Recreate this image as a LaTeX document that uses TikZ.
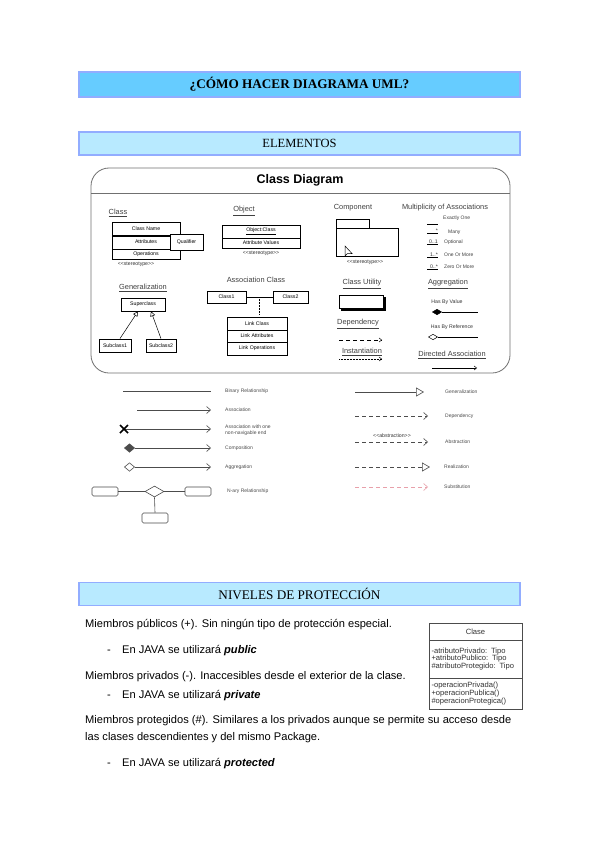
\documentclass[tikz,border=0pt]{standalone}
\usepackage{fontspec}
\setmainfont{Liberation Sans}
\newfontfamily\headfont{Liberation Serif}
\usetikzlibrary{arrows.meta,calc,shapes.geometric}
\definecolor{titlefill}{HTML}{66CCFF}
\definecolor{barfill}{HTML}{B8EAFF}
\definecolor{barline}{HTML}{92ADFF}
\definecolor{framegray}{HTML}{707070}
\definecolor{subpink}{HTML}{E8A0AA}

\begin{document}
\begin{tikzpicture}[
  x=1pt,
  y=-1pt,
  line/.style={draw=black,line width=0.5pt},
  gline/.style={draw=black!70,line width=0.6pt},
  headbar/.style={draw=barline,line width=1.3pt,minimum width=441pt,inner sep=0pt,font=\headfont\fontsize{12.5}{14}\selectfont},
  cdlabel/.style={font=\fontsize{7.4}{8}\selectfont,text=black!75,inner sep=0.5pt},
  tinytext/.style={font=\fontsize{5.2}{6}\selectfont,text=black!80,inner sep=0pt},
  rowbox/.style={line,fill=white,inner sep=0pt,font=\fontsize{5.2}{6}\selectfont},
  multtext/.style={anchor=west,font=\fontsize{5}{6}\selectfont,text=black!75,inner sep=0pt},
  legendtext/.style={anchor=west,align=left,font=\fontsize{5}{5.6}\selectfont,text=black!70,inner sep=0pt},
  bodytext/.style={anchor=west,font=\fontsize{11.1}{13}\selectfont,inner sep=0pt,text height=8pt,text depth=2.5pt},
  classtext/.style={line,draw=black!70,inner sep=0pt,minimum width=93pt,font=\fontsize{7.6}{7.6}\selectfont,text=black!80},
  openhead/.style={-{Straight Barb[length=4pt,width=7pt]}},
  smallhead/.style={-{Straight Barb[length=2.5pt,width=4pt]}},
  hollowtri/.style={-{Triangle[open,length=8pt,width=9pt]}},
  dashline/.style={dash pattern=on 4pt off 3pt}
]
\fill[white] (0,0) rectangle (599,848);
\useasboundingbox (0,0) rectangle (599,848);

% Headings
\node[headbar,fill=titlefill,minimum height=25pt,font=\headfont\bfseries\fontsize{13.2}{15}\selectfont] (title) at (299.5,84.5) {¿CÓMO HACER DIAGRAMA UML?};
\node[headbar,fill=barfill,minimum height=23pt] (elementos) at (299.5,143.5) {ELEMENTOS};
\node[headbar,fill=barfill,minimum height=23pt,font=\headfont\fontsize{13.2}{15}\selectfont] (niveles) at (299.5,594) {NIVELES DE PROTECCIÓN};

% Class diagram frame
\draw[draw=framegray,line width=0.8pt,rounded corners=18pt] (91,168) rectangle (510,373);
\draw[draw=framegray,line width=0.6pt] (91,193) -- (510,193);
\node[font=\bfseries\fontsize{12.5}{14}\selectfont] (cdtitle) at (300,180) {Class Diagram};

% Class
\node[cdlabel] (clslabel) at (118,213) {\underline{Class}};
\node[rowbox,minimum width=68pt,minimum height=13pt] (clsname) at (146,228.5) {Class Name};
\node[rowbox,minimum width=68pt,minimum height=14pt] (clsattr) at (146,242) {Attributes};
\node[rowbox,minimum width=68pt,minimum height=10pt] (clsops) at (146,254) {Operations};
\draw[line] ($(clsname.south west)+(0,1)$) -- ($(clsname.south east)+(0,1)$);
\node[rowbox,line width=0.9pt,minimum width=33pt,minimum height=16pt] (qualifier) at (186.5,242) {Qualifier};
\node[tinytext] (clsster) at (136,264) {<{}<stereotype>{}>};

% Object
\node[cdlabel] (objlabel) at (244,211) {\underline{Object}};
\node[rowbox,minimum width=78pt,minimum height=13pt] (objname) at (261,231.5) {\underline{Object:Class}};
\node[rowbox,minimum width=78pt,minimum height=10pt] (objattr) at (261,243) {Attribute Values};
\node[tinytext] (objster) at (261,253) {<{}<stereotype>{}>};

% Component
\node[cdlabel] (complabel) at (353,208) {Component};
\node[rowbox,minimum width=33pt,minimum height=9pt] (comptab) at (352.5,223.5) {};
\node[rowbox,minimum width=62pt,minimum height=28pt] (compbody) at (367,242) {};
\draw[line,fill=white] (345,246) -- (345,256) -- (347.5,253.5) -- (352,253.5) -- cycle;
\node[tinytext] (compster) at (365,262) {<{}<stereotype>{}>};

% Multiplicity of associations
\node[cdlabel] (multlabel) at (445,208) {Multiplicity of Associations};
\coordinate (exA) at (427,224); \coordinate (exB) at (438,224);
\coordinate (manyA) at (427,233); \coordinate (manyB) at (438,233);
\coordinate (optA) at (427,244); \coordinate (optB) at (438,244);
\coordinate (oneA) at (427,257); \coordinate (oneB) at (438,257);
\coordinate (zeroA) at (427,269); \coordinate (zeroB) at (438,269);
\draw[line] (exA) -- (exB);
\draw[line] (manyA) -- (manyB);
\draw[line] (optA) -- (optB);
\draw[line] (oneA) -- (oneB);
\draw[line] (zeroA) -- (zeroB);
\node[multtext] (exactly) at (443,218) {Exactly One};
\node[multtext] (many) at (448,232) {Many};
\node[multtext] (optional) at (444,242) {Optional};
\node[multtext] (onemore) at (444,255) {One Or More};
\node[multtext] (zeromore) at (444,267) {Zero Or More};
\node[tinytext,anchor=south east] (manymark) at (manyB) {*};
\node[tinytext,anchor=south east] (optmark) at (optB) {0..1};
\node[tinytext,anchor=south east] (onemark) at (oneB) {1..*};
\node[tinytext,anchor=south east] (zeromark) at (zeroB) {0..*};

% Generalization
\node[cdlabel] (genlabel) at (143,288) {\underline{Generalization}};
\node[rowbox,minimum width=44pt,minimum height=13pt] (super) at (143,304.5) {Superclass};
\node[rowbox,line width=0.9pt,minimum width=32pt,minimum height=13pt] (sub1) at (115,345.5) {Subclass1};
\node[rowbox,line width=0.7pt,minimum width=30pt,minimum height=13pt] (sub2) at (161,345.5) {Subclass2};
\draw[line,-{Triangle[open,length=5pt,width=5pt]}] ($(sub1.north)+(5,0)$) -- ($(super.south)+(-5,0)$);
\draw[line,-{Triangle[open,length=5pt,width=5pt]}] (sub2.north) -- ($(super.south)+(8,0)$);

% Association class
\node[cdlabel] (assoclabel) at (256,280) {Association Class};
\node[rowbox,minimum width=39pt,minimum height=12pt] (class1) at (226.5,297) {Class1};
\node[rowbox,minimum width=35pt,minimum height=12pt] (class2) at (290.5,297) {Class2};
\draw[line] (class1.east) -- (class2.west);
\coordinate (assocmid) at (259,297);
\node[rowbox,minimum width=60pt,minimum height=13pt] (linkcls) at (257,323.5) {Link Class};
\node[rowbox,minimum width=60pt,minimum height=12pt] (linkattr) at (257,336) {Link Attributes};
\node[rowbox,minimum width=60pt,minimum height=13pt] (linkops) at (257,348.5) {Link Operations};
\draw[line,densely dotted] (assocmid) -- ($(linkcls.north)+(2,-2)$);

% Class utility, dependency, instantiation
\node[cdlabel] (utillabel) at (362,284) {\underline{Class Utility}};
\node[rowbox,fill=black,minimum width=44pt,minimum height=13pt] (utilshadow) at (363,303.5) {};
\node[rowbox,minimum width=44pt,minimum height=13pt] (utilbox) at (361,301.5) {};
\node[cdlabel] (deplabel) at (358,324) {\underline{Dependency}};
\coordinate (depA) at (339,340); \coordinate (depB) at (382,340);
\draw[line,dashline,smallhead] (depA) -- (depB);
\node[cdlabel] (instlabel) at (362,352) {\underline{Instantiation}};
\coordinate (instA) at (339,359); \coordinate (instB) at (382,359);
\draw[line,densely dotted,smallhead] (instA) -- (instB);

% Aggregation and directed association
\node[cdlabel] (agglabel) at (448,284) {\underline{Aggregation}};
\node[tinytext] (byvalue) at (447,302) {Has By Value};
\coordinate (valA) at (432,312); \coordinate (valB) at (478,312);
\draw[line,{Diamond[length=10pt,width=6pt]}-] (valA) -- (valB);
\node[tinytext] (byref) at (452,327) {Has By Reference};
\coordinate (refA) at (428,337); \coordinate (refB) at (478,337);
\draw[line,{Diamond[open,length=10pt,width=6pt]}-] (refA) -- (refB);
\node[cdlabel] (dirlabel) at (452,355) {\underline{Directed Association}};
\coordinate (dirA) at (432,368); \coordinate (dirB) at (477,368);
\draw[line,smallhead] (dirA) -- (dirB);

% Relationship legend, left column
\coordinate (binA) at (123,391); \coordinate (binB) at (211,391);
\coordinate (assA) at (137,410); \coordinate (assB) at (211,410);
\coordinate (navA) at (124,429); \coordinate (navB) at (211,429);
\coordinate (compA) at (124,448); \coordinate (compB) at (211,448);
\coordinate (aggA) at (124,467); \coordinate (aggB) at (211,467);
\draw[gline] (binA) -- (binB);
\draw[gline,openhead] (assA) -- (assB);
\draw[gline,openhead] (navA) -- (navB);
\draw[line width=1.6pt] ($(navA)+(-4,-4)$) -- ($(navA)+(4,4)$);
\draw[line width=1.6pt] ($(navA)+(-4,4)$) -- ($(navA)+(4,-4)$);
\draw[gline,{Diamond[length=11pt,width=9pt]}-{Straight Barb[length=4pt,width=7pt]}] (compA) -- (compB);
\draw[gline,{Diamond[open,length=11pt,width=9pt]}-{Straight Barb[length=4pt,width=7pt]}] (aggA) -- (aggB);
\node[legendtext] (binlabel) at (225,391) {Binary Relationship};
\node[legendtext] (asslabel) at (225,410) {Association};
\node[legendtext] (navlabel) at (225,430) {Association with one\\non-navigable end};
\node[legendtext] (complabel2) at (225,448) {Composition};
\node[legendtext] (agglabel2) at (225,467) {Aggregation};

% N-ary relationship
\node[diamond,gline,fill=white,minimum width=19pt,minimum height=11pt,inner sep=0pt] (narydia) at (154.5,491.5) {};
\node[gline,rounded corners=1.5pt,minimum width=26pt,minimum height=9pt,inner sep=0pt] (naryleft) at (105,491.5) {};
\node[gline,rounded corners=1.5pt,minimum width=26pt,minimum height=9pt,inner sep=0pt] (naryright) at (198,491.5) {};
\node[gline,rounded corners=1.5pt,minimum width=26pt,minimum height=10pt,inner sep=0pt] (narybottom) at (155,518) {};
\draw[gline] (naryleft.east) -- (narydia.west);
\draw[gline] (narydia.east) -- (naryright.west);
\draw[gline] (narydia.south) -- (narybottom.north);
\node[legendtext] (narylabel) at (227,491.5) {N-ary Relationship};

% Relationship legend, right column
\coordinate (genA) at (355,392); \coordinate (genB) at (424,392);
\coordinate (depA2) at (355,416); \coordinate (depB2) at (428,416);
\coordinate (absA) at (355,442); \coordinate (absB) at (428,442);
\coordinate (realA) at (355,467); \coordinate (realB) at (430,467);
\coordinate (substA) at (355,487); \coordinate (substB) at (428,487);
\draw[gline,hollowtri] (genA) -- (genB);
\draw[gline,dashline,openhead] (depA2) -- (depB2);
\draw[gline,dashline,openhead] (absA) -- (absB);
\draw[gline,dashline,hollowtri] (realA) -- (realB);
\draw[draw=subpink,line width=0.6pt,dashline,openhead] (substA) -- (substB);
\node[tinytext] (absster) at (392,436) {<{}<abstraction>{}>};
\node[legendtext] (genlabel2) at (445,392) {Generalization};
\node[legendtext] (deplabel2) at (445,416) {Dependency};
\node[legendtext] (abslabel) at (445,442) {Abstraction};
\node[legendtext] (reallabel) at (444,467) {Realization};
\node[legendtext] (substlabel) at (444,487) {Substitution};

% Protection levels
\node[bodytext] (pubtext) at (85,625) {Miembros públicos (+). Sin ningún tipo de protección especial.};
\node[bodytext] (pubdash) at (107,651) {-};
\node[bodytext] (pubjava) at (122,651) {En JAVA se utilizará \textbf{\textit{public}}};
\node[bodytext] (privtext) at (85,677) {Miembros privados (-). Inaccesibles desde el exterior de la clase.};
\node[bodytext] (privdash) at (107,696) {-};
\node[bodytext] (privjava) at (122,696) {En JAVA se utilizará \textbf{\textit{private}}};
\node[bodytext] (prottext) at (85,721) {Miembros protegidos (\#). Similares a los privados aunque se permite su acceso desde};
\node[bodytext] (prottext2) at (85,738) {las clases descendientes y del mismo Package.};
\node[bodytext] (protdash) at (107,764) {-};
\node[bodytext] (protjava) at (122,764) {En JAVA se utilizará \textbf{\textit{protected}}};

% Class example
\node[classtext,minimum height=17pt] (clshead) at (475.5,631.5) {Clase};
\node[classtext,minimum height=38pt,text width=88pt,align=left] (clsattrs) at (475.5,659) {-atributoPrivado: Tipo\\+atributoPublico: Tipo\\\#atributoProtegido: Tipo};
\node[classtext,minimum height=31pt,text width=88pt,align=left] (clsopers) at (475.5,693.5) {-operacionPrivada()\\+operacionPublica()\\\#operacionProtegica()};

\end{tikzpicture}
\end{document}
